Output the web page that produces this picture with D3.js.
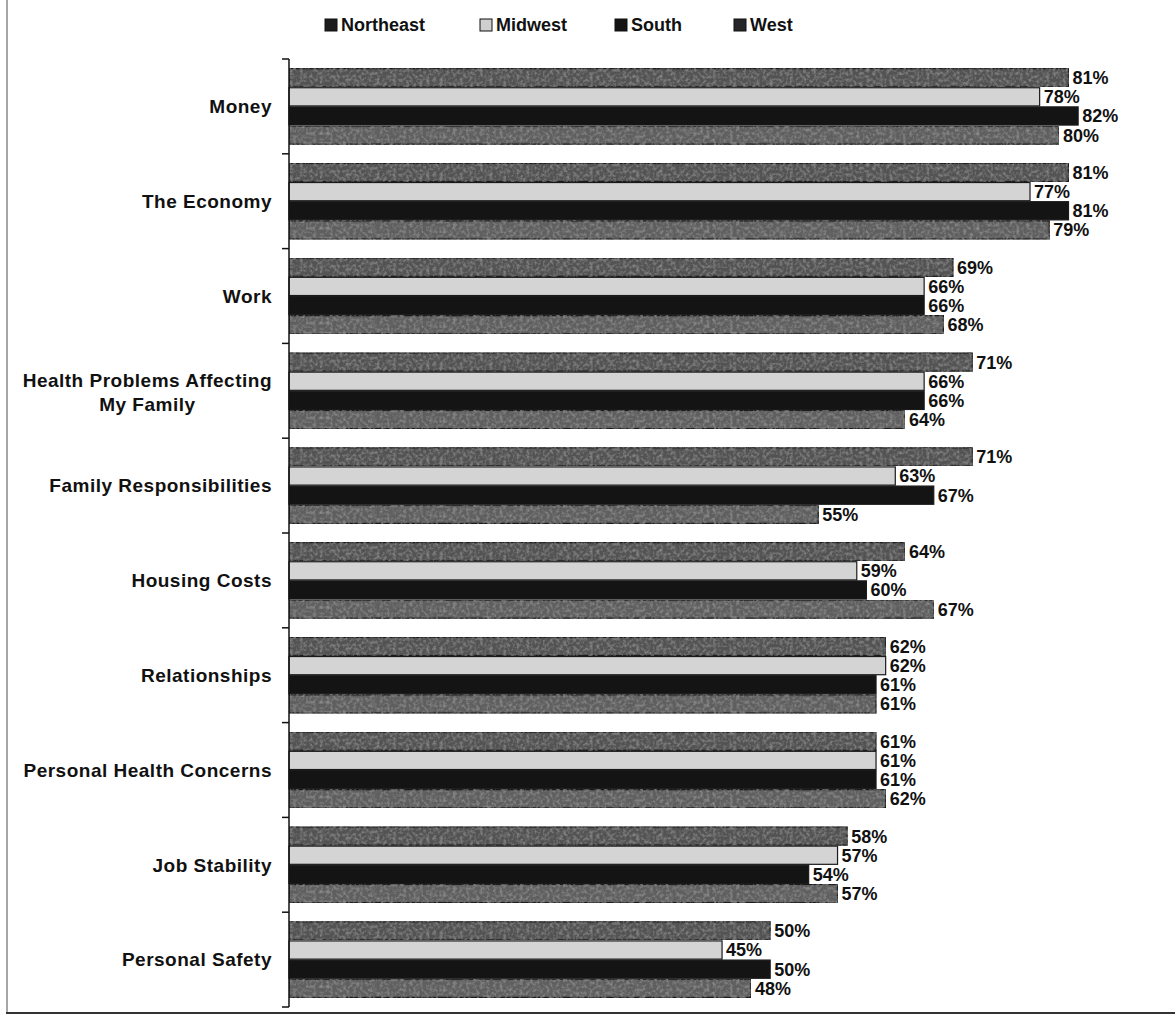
<!DOCTYPE html>
<html>
<head>
<meta charset="utf-8">
<script src="https://cdn.jsdelivr.net/npm/d3@7"></script>
<style>
  body { margin: 0; background: #fff; }
  svg text { font-family: "Liberation Sans", Arial, sans-serif; font-weight: bold; fill: #111; }
</style>
</head>
<body>
<svg id="chart" width="1175" height="1027"></svg>
<script>
// category labels (top to bottom) and values per region, in percent
const categories = ["Money", "The Economy", "Work", "Health Problems Affecting|My Family",
  "Family Responsibilities", "Housing Costs", "Relationships", "Personal Health Concerns",
  "Job Stability", "Personal Safety"];
const regions = ["Northeast", "Midwest", "South", "West"];
const northeast = [81, 81, 69, 71, 71, 64, 62, 61, 58, 50];
const midwest   = [78, 77, 66, 66, 63, 59, 62, 61, 57, 45];
const south     = [82, 81, 66, 66, 67, 60, 61, 61, 54, 50];
const west      = [80, 79, 68, 64, 55, 67, 61, 62, 57, 48];
const colors = ["#525252", "#d4d4d4", "#141414", "#5e5e5e"];
const legendColors = ["#1c1c1c", "#cfcfcf", "#141414", "#262626"];

const series = [northeast, midwest, south, west];
const svg = d3.select("#chart");

// light grain, like the scan
const defs = svg.append("defs");
const f = defs.append("filter").attr("id", "grain").attr("x", 0).attr("y", 0).attr("width", 1).attr("height", 1);
f.append("feTurbulence").attr("type", "fractalNoise").attr("baseFrequency", 0.3).attr("numOctaves", 2).attr("seed", 4).attr("result", "n");
f.append("feColorMatrix").attr("in", "n").attr("type", "matrix")
  .attr("values", "0 0 0 0 0.6  0 0 0 0 0.6  0 0 0 0 0.6  0.7 0 0 0 -0.3").attr("result", "g");
f.append("feComposite").attr("in", "g").attr("in2", "SourceGraphic").attr("operator", "in").attr("result", "gi");
f.append("feMerge").call(m => { m.append("feMergeNode").attr("in", "SourceGraphic"); m.append("feMergeNode").attr("in", "gi"); });

const x = d3.scaleLinear().domain([0, 85]).range([289, 1107]);
const y = d3.scaleBand().domain(categories).range([59, 1007]);
const yInner = d3.scaleBand().domain(regions).range([0, y.bandwidth()]).paddingInner(0.05).paddingOuter(0.5);

// frame (left + bottom edge of the scanned box)
svg.append("line").attr("x1", 7).attr("x2", 7).attr("y1", 0).attr("y2", 1013).attr("stroke", "#888").attr("stroke-width", 1.5);
svg.append("line").attr("x1", 6).attr("x2", 1175).attr("y1", 1013).attr("y2", 1013).attr("stroke", "#333").attr("stroke-width", 2);

// bars
categories.forEach((cat, ci) => {
  const g = svg.append("g").attr("transform", `translate(0,${y(cat)})`);
  g.selectAll("rect").data(regions).enter().append("rect")
    .attr("x", x(0))
    .attr("y", r => yInner(r))
    .attr("width", (r, i) => x(series[i][ci]) - x(0))
    .attr("height", yInner.bandwidth())
    .attr("fill", (r, i) => colors[i])
    .attr("stroke", "#1a1a1a").attr("stroke-width", 1.2)
    .attr("filter", (r, i) => (i === 0 || i === 3) ? "url(#grain)" : null);
  g.selectAll("text").data(regions).enter().append("text")
    .attr("x", (r, i) => x(series[i][ci]) + 4)
    .attr("y", r => yInner(r) + yInner.bandwidth() / 2)
    .attr("dy", "0.36em")
    .attr("font-size", 18)
    .text((r, i) => series[i][ci] + "%");
});

// category axis
const axis = svg.append("g").attr("transform", `translate(${x(0)},0)`);
axis.append("line").attr("y1", 59).attr("y2", 1007).attr("stroke", "#111").attr("stroke-width", 1.5);
const edges = categories.map(c => y(c)).concat([1007]);
axis.selectAll(".tk").data(edges).enter().append("line").attr("class", "tk")
  .attr("x1", -7).attr("x2", 0).attr("y1", d => d).attr("y2", d => d)
  .attr("stroke", "#111").attr("stroke-width", 1.5);

categories.forEach(cat => {
  const lines = cat.split("|");
  const cy = y(cat) + y.bandwidth() / 2;
  const t = svg.append("text").attr("font-size", 19).attr("letter-spacing", 0.5).attr("text-anchor", "end");
  if (lines.length === 1) {
    t.attr("x", 272).attr("y", cy).attr("dy", "0.36em").text(lines[0]);
  } else {
    t.attr("x", 272).attr("y", cy - 11).attr("dy", "0.36em").text(lines[0]);
    const w = t.node().getComputedTextLength();
    svg.append("text").attr("font-size", 19).attr("letter-spacing", 0.5).attr("text-anchor", "middle")
      .attr("x", 272 - w / 2).attr("y", cy + 13).attr("dy", "0.36em").text(lines[1]);
  }
});

// legend
const legendX = [325, 480, 615, 734];
const leg = svg.selectAll(".leg").data(regions).enter().append("g").attr("class", "leg")
  .attr("transform", (r, i) => `translate(${legendX[i]},25)`);
leg.append("rect").attr("x", 0).attr("y", -6).attr("width", 12).attr("height", 12)
  .attr("fill", (r, i) => legendColors[i]).attr("stroke", "#111").attr("stroke-width", 1);
leg.append("text").attr("x", 16).attr("y", 0).attr("dy", "0.36em").attr("font-size", 18).text(r => r);
</script>
</body>
</html>
